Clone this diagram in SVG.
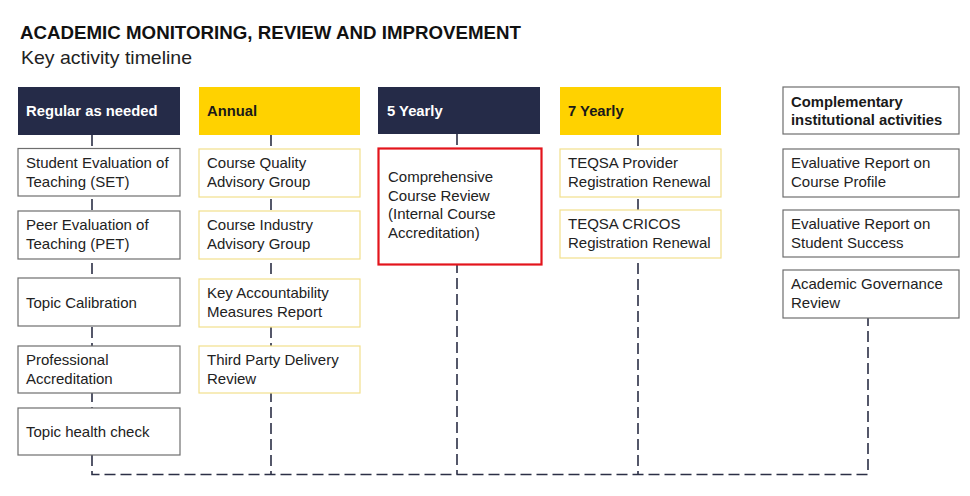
<svg xmlns="http://www.w3.org/2000/svg" width="970" height="496" viewBox="0 0 970 496">
<style>
text{font-family:"Liberation Sans",Arial,sans-serif;}
.t{font-size:15px;fill:#222;}
.h{font-size:14.8px;font-weight:bold;}
.hw{fill:#fff;}
.hd{fill:#1a1a1a;}
.navy{fill:#252b48;}
.yel{fill:#ffd200;}
.gb{fill:#fff;stroke:#6e6e6e;stroke-width:1.2;}
.yb{fill:#fff;stroke:#f2df8c;stroke-width:1.2;}
.rb{fill:#fff;stroke:#e3141c;stroke-width:2.2;}
.con{fill:none;stroke:#2b2f45;stroke-width:1.6;stroke-dasharray:11 5;}
</style>
<rect width="970" height="496" fill="#fff"/>
<text x="20" y="39" font-size="18" font-weight="bold" fill="#111" textLength="501" lengthAdjust="spacingAndGlyphs">ACADEMIC MONITORING, REVIEW AND IMPROVEMENT</text>
<text x="21" y="64" font-size="18.5" fill="#222" textLength="171" lengthAdjust="spacingAndGlyphs">Key activity timeline</text>

<g id="connectors">
<path class="con" d="M92 135 V474.5 H868 V318"/>
<path class="con" d="M271 135 V474.5"/>
<path class="con" d="M457 134 V474.5"/>
<path class="con" d="M638 135 V474.5"/>
</g>

<g id="hdr-regular"><rect class="navy" x="18" y="87" width="162" height="48"/><text class="h hw" x="26" y="116">Regular as needed</text></g>
<g id="hdr-annual"><rect class="yel" x="199" y="87" width="161" height="48"/><text class="h hd" x="207" y="116">Annual</text></g>
<g id="hdr-5yearly"><rect class="navy" x="378" y="87" width="162" height="47"/><text class="h hw" x="387" y="116">5 Yearly</text></g>
<g id="hdr-7yearly"><rect class="yel" x="560" y="87" width="161" height="48"/><text class="h hd" x="568" y="116">7 Yearly</text></g>
<g id="hdr-complementary"><rect class="gb" x="783" y="87" width="176" height="47"/><text class="h hd" x="791" y="106.5">Complementary</text><text class="h hd" x="791" y="125">institutional activities</text></g>

<g id="set"><rect class="gb" x="18" y="148.5" width="162" height="47.5"/><text class="t" x="26" y="167.5">Student Evaluation of</text><text class="t" x="26" y="186.5">Teaching (SET)</text></g>
<g id="pet"><rect class="gb" x="18" y="211" width="162" height="48"/><text class="t" x="26" y="230">Peer Evaluation of</text><text class="t" x="26" y="249">Teaching (PET)</text></g>
<g id="topic-calibration"><rect class="gb" x="18" y="278" width="162" height="48"/><text class="t" x="26" y="307.5">Topic Calibration</text></g>
<g id="professional-accreditation"><rect class="gb" x="18" y="346" width="162" height="47"/><text class="t" x="26" y="365">Professional</text><text class="t" x="26" y="384">Accreditation</text></g>
<g id="topic-health-check"><rect class="gb" x="18" y="408" width="162" height="47"/><text class="t" x="26" y="437">Topic health check</text></g>

<g id="cqag"><rect class="yb" x="199" y="149" width="161" height="48"/><text class="t" x="207" y="168">Course Quality</text><text class="t" x="207" y="187">Advisory Group</text></g>
<g id="ciag"><rect class="yb" x="199" y="211" width="161" height="48"/><text class="t" x="207" y="230">Course Industry</text><text class="t" x="207" y="249">Advisory Group</text></g>
<g id="kamr"><rect class="yb" x="199" y="279" width="161" height="48"/><text class="t" x="207" y="298">Key Accountability</text><text class="t" x="207" y="317">Measures Report</text></g>
<g id="tpdr"><rect class="yb" x="199" y="346" width="161" height="47"/><text class="t" x="207" y="365">Third Party Delivery</text><text class="t" x="207" y="384">Review</text></g>

<g id="ccr"><rect class="rb" x="378.5" y="148.5" width="163" height="116"/><text class="t" x="388" y="182">Comprehensive</text><text class="t" x="388" y="200.7">Course Review</text><text class="t" x="388" y="219.4">(Internal Course</text><text class="t" x="388" y="238">Accreditation)</text></g>

<g id="teqsa-provider"><rect class="yb" x="560" y="149" width="161" height="48"/><text class="t" x="568" y="168">TEQSA Provider</text><text class="t" x="568" y="187">Registration Renewal</text></g>
<g id="teqsa-cricos"><rect class="yb" x="560" y="210" width="161" height="48"/><text class="t" x="568" y="229">TEQSA CRICOS</text><text class="t" x="568" y="248">Registration Renewal</text></g>

<g id="er-course-profile"><rect class="gb" x="783" y="149" width="176" height="48"/><text class="t" x="791" y="168">Evaluative Report on</text><text class="t" x="791" y="187">Course Profile</text></g>
<g id="er-student-success"><rect class="gb" x="783" y="210" width="176" height="47"/><text class="t" x="791" y="229">Evaluative Report on</text><text class="t" x="791" y="248">Student Success</text></g>
<g id="agr"><rect class="gb" x="783" y="270" width="176" height="48"/><text class="t" x="791" y="289">Academic Governance</text><text class="t" x="791" y="308">Review</text></g>
</svg>
